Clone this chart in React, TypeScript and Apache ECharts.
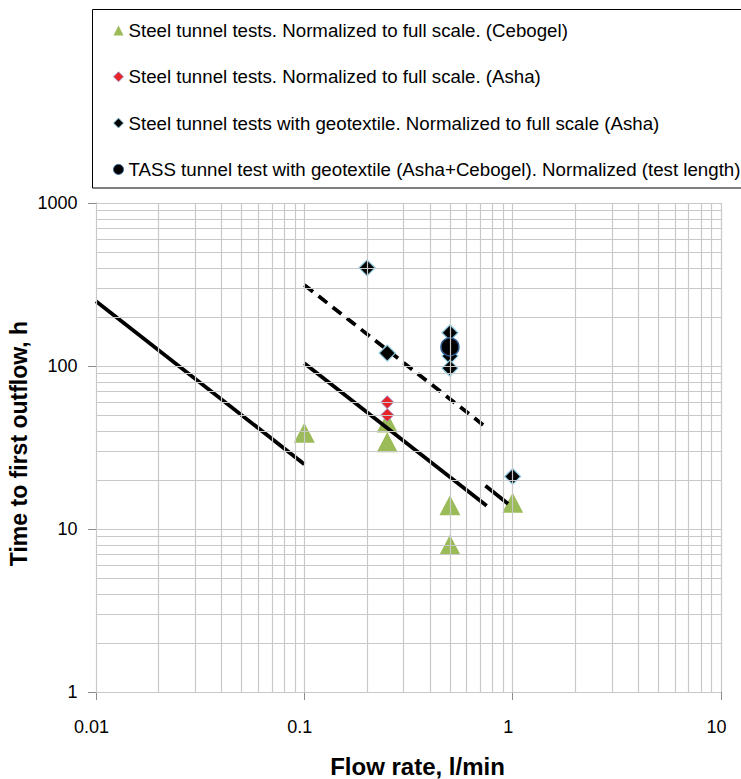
import React, { useEffect, useRef } from "react";
import * as echarts from "echarts";

// Axis ticks (log scale)
const xTicks = [0.01, 0.1, 1, 10];
const yTicks = [1, 10, 100, 1000];

// Point series: [flow rate l/min, time to first outflow h]
const cebogelSteel: [number, number][] = [
  [0.1, 39],
  [0.25, 45],
  [0.25, 34],
  [0.5, 14],
  [0.5, 8],
  [1, 14.5],
];
const ashaSteel: [number, number][] = [
  [0.25, 60],
  [0.25, 50],
];
const ashaGeotextile: [number, number][] = [
  [0.2, 400],
  [0.25, 120],
  [0.5, 160],
  [0.5, 115],
  [0.5, 97],
  [1, 21],
];
const tassTunnel: [number, number][] = [[0.5, 131]];

// Reference lines (t = C / q segments)
const lineA: [number, number][] = [
  [0.01, 250],
  [0.1, 25],
];
const lineB: [number, number][] = [
  [0.1, 104],
  [0.75, 13.9],
];
const lineDashed: [number, number][] = [
  [0.1, 314],
  [0.76, 41.3],
];
const lineShort: [number, number][] = [
  [0.74, 18.4],
  [0.95, 14.3],
];

const legendNames = [
  "Steel tunnel tests. Normalized to full scale. (Cebogel)",
  "Steel tunnel tests. Normalized to full scale. (Asha)",
  "Steel tunnel tests with geotextile. Normalized to full scale (Asha)",
  "TASS tunnel test with geotextile (Asha+Cebogel). Normalized (test length)",
];

// Log grid lines at 1..9 of every decade
function decadeGrid(lo: number, hi: number): number[] {
  const out: number[] = [];
  for (let d = lo; d < hi; d *= 10) {
    for (let k = 1; k <= 10; k++) out.push(+(d * k).toPrecision(6));
  }
  return Array.from(new Set(out));
}
const xGrid = decadeGrid(0.01, 10);
const yGrid = decadeGrid(1, 1000);

const FONT = "'Liberation Sans', Arial, sans-serif";

export default function App() {
  const ref = useRef<HTMLDivElement>(null);

  useEffect(() => {
    if (!ref.current) return;
    const chart = echarts.init(ref.current, undefined, { renderer: "svg" });
    const fmt = (v: number) => String(+Number(v).toPrecision(3));
    const axisGray = "#8c8c8c";

    chart.setOption({
      animation: false,
      backgroundColor: "#ffffff",
      textStyle: { fontFamily: FONT },
      grid: {
        left: 96,
        top: 203,
        width: 625,
        height: 489,
        containLabel: false,
        outerBoundsMode: "none",
      },
      graphic: [
        {
          type: "rect",
          z: 0,
          shape: { x: 92.5, y: 9.5, width: 700, height: 178.5 },
          style: { fill: "#ffffff", stroke: "#000000", lineWidth: 1 },
        },
      ],
      legend: {
        orient: "vertical",
        left: 113,
        top: 21,
        padding: 0,
        z: 5,
        itemWidth: 10,
        itemHeight: 10,
        itemGap: 27.3,
        itemTextGap: 5,
        itemStyle: { borderWidth: 1 },
        textStyle: { fontFamily: FONT, fontSize: 18.7, color: "#000000", lineHeight: 18 },
        data: [
          { name: legendNames[0], icon: "triangle" },
          { name: legendNames[1], icon: "diamond" },
          { name: legendNames[2], icon: "diamond" },
          { name: legendNames[3], icon: "circle" },
        ],
      },
      xAxis: {
        type: "log",
        logBase: 10,
        min: xTicks[0],
        max: xTicks[xTicks.length - 1],
        name: "Flow rate, l/min",
        nameLocation: "middle",
        nameGap: 62,
        nameMoveOverlap: false,
        nameTextStyle: {
          fontFamily: FONT,
          fontSize: 24,
          fontWeight: "bold",
          color: "#000",
          padding: [0, 0, 0, 18],
        },
        axisLine: { show: true, lineStyle: { color: axisGray, width: 1 } },
        axisTick: { show: true, length: 8, lineStyle: { color: axisGray } },
        axisLabel: {
          fontFamily: FONT,
          fontSize: 18,
          color: "#000",
          margin: 26,
          padding: [0, 9, 0, 0],
          formatter: fmt,
        },
        splitLine: { show: false },
      },
      yAxis: {
        type: "log",
        logBase: 10,
        min: yTicks[0],
        max: yTicks[yTicks.length - 1],
        name: "Time to first outflow, h",
        nameLocation: "middle",
        nameGap: 66,
        nameMoveOverlap: false,
        nameTextStyle: {
          fontFamily: FONT,
          fontSize: 23,
          fontWeight: "bold",
          color: "#000",
          padding: [0, 0, 0, 8],
        },
        axisLine: { show: true, lineStyle: { color: axisGray, width: 1 } },
        axisTick: { show: true, length: 8, lineStyle: { color: axisGray } },
        axisLabel: { fontFamily: FONT, fontSize: 18, color: "#000", margin: 18.5, formatter: fmt },
        splitLine: { show: false },
      },
      series: [
        {
          name: "grid",
          type: "line",
          z: 1,
          silent: true,
          data: [[1, 10]],
          showSymbol: false,
          lineStyle: { opacity: 0 },
          markLine: {
            silent: true,
            symbol: "none",
            animation: false,
            label: { show: false },
            lineStyle: { color: "#c8c8c8", width: 1.2, type: "solid" },
            data: [
              ...xGrid.map((v) => ({ xAxis: v })),
              ...yGrid.map((v) => ({ yAxis: v })),
            ],
          },
        },
        {
          name: legendNames[0],
          type: "scatter",
          z: 3,
          symbol: "triangle",
          symbolSize: [21, 20],
          itemStyle: { color: "#9bbb59", opacity: 1 },
          data: cebogelSteel,
        },
        {
          name: legendNames[1],
          type: "scatter",
          z: 3,
          symbol: "diamond",
          symbolSize: 13,
          itemStyle: { color: "#e8232a", borderColor: "#a394c9", borderWidth: 1, opacity: 1 },
          data: ashaSteel,
        },
        {
          name: legendNames[2],
          type: "scatter",
          z: 3,
          symbol: "diamond",
          symbolSize: 16,
          itemStyle: { color: "#000000", borderColor: "#8ecae0", borderWidth: 1.2, opacity: 1 },
          data: ashaGeotextile,
        },
        {
          name: legendNames[3],
          type: "scatter",
          z: 3,
          symbol: "circle",
          symbolSize: 18,
          itemStyle: { color: "#000000", borderColor: "#2f5f92", borderWidth: 1.5, opacity: 1 },
          data: tassTunnel,
        },
        ...[lineA, lineB, lineShort].map((d, i) => ({
          name: "line" + i,
          type: "line",
          z: 4,
          silent: true,
          showSymbol: false,
          symbol: "none",
          lineStyle: { color: "#000000", width: 3.8, cap: "butt" },
          data: d,
        })),
        {
          name: "lineDashed",
          type: "line",
          z: 2,
          silent: true,
          showSymbol: false,
          symbol: "none",
          lineStyle: { color: "#000000", width: 3.8, type: [11, 7] },
          data: lineDashed,
        },
      ],
    });
    return () => chart.dispose();
  }, []);

  return (
    <div
      ref={ref}
      style={{ position: "absolute", left: 0, top: 0, width: 741, height: 779 }}
    />
  );
}
